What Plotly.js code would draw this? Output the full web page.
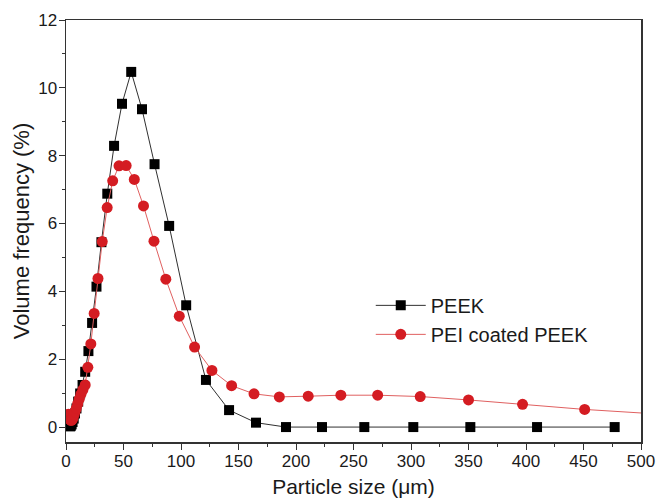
<!DOCTYPE html>
<html>
<head>
<meta charset="utf-8">
<script src="https://cdn.plot.ly/plotly-3.0.1.min.js"></script>
<style>html,body{margin:0;padding:0;background:#fff;}#chart{width:657px;height:498px;}</style>
</head>
<body>
<div id="chart"></div>
<script>
const peekX = [3.6, 4.2, 4.9, 5.7, 6.7, 7.8, 9.1, 10.6, 12.3, 14.4, 16.7, 19.5, 22.7, 26.5, 30.8, 35.9, 41.8, 48.7, 56.7, 66.1, 77.0, 89.7, 104.5, 121.7, 141.8, 165.2, 191.3, 222.6, 259.4, 302.0, 351.6, 409.6, 477.1];
const peekY = [0.02, 0.04, 0.08, 0.15, 0.25, 0.40, 0.55, 0.75, 0.99, 1.24, 1.63, 2.24, 3.07, 4.14, 5.45, 6.88, 8.29, 9.53, 10.47, 9.37, 7.75, 5.93, 3.59, 1.39, 0.50, 0.13, 0.0, 0.0, 0.0, 0.0, 0.0, 0.0, 0.0];
const peiX = [2.2, 2.5, 2.8, 3.2, 3.7, 4.2, 4.7, 5.4, 6.1, 6.9, 7.8, 8.9, 10.1, 11.5, 13.0, 14.7, 16.7, 19.0, 21.6, 24.5, 27.8, 31.5, 35.8, 40.6, 46.1, 52.3, 59.4, 67.4, 76.5, 86.8, 98.5, 111.8, 126.9, 144.0, 163.5, 185.5, 210.6, 239.0, 271.0, 308.0, 350.0, 397.0, 451.0, 512.0];
const peiY = [0.38, 0.35, 0.30, 0.25, 0.22, 0.20, 0.20, 0.22, 0.27, 0.35, 0.45, 0.55, 0.68, 0.82, 0.97, 1.10, 1.24, 1.76, 2.45, 3.35, 4.38, 5.47, 6.47, 7.26, 7.70, 7.71, 7.30, 6.52, 5.48, 4.36, 3.27, 2.36, 1.67, 1.22, 0.98, 0.89, 0.91, 0.94, 0.94, 0.90, 0.80, 0.67, 0.52, 0.39];
const seriesNames = ["PEEK", "PEI coated PEEK"];
const xTickVals = [0, 50, 100, 150, 200, 250, 300, 350, 400, 450, 500];
const yTickVals = [0, 2, 4, 6, 8, 10, 12];

const font = "Liberation Sans, Arial, sans-serif";
const traces = [
  {x: peekX, y: peekY, name: seriesNames[0], type: "scatter", mode: "lines+markers",
   line: {color: "#303030", width: 1}, marker: {symbol: "square", size: 10, color: "#000"}},
  {x: peiX, y: peiY, name: seriesNames[1], type: "scatter", mode: "lines+markers",
   line: {color: "#e06060", width: 1}, marker: {symbol: "circle", size: 11, color: "#d41c22"}}
];
const axisCommon = {
  showgrid: false, zeroline: false, showline: true, linecolor: "#333", linewidth: 1.5,
  mirror: true, ticks: "outside", ticklen: 6, tickwidth: 1, tickcolor: "#333",
  tickfont: {family: font, size: 17, color: "#1a1a1a"}
};
const layout = {
  width: 657, height: 498,
  margin: {l: 66, r: 16, t: 20, b: 56},
  paper_bgcolor: "#fff", plot_bgcolor: "#fff",
  xaxis: Object.assign({}, axisCommon, {
    range: [0, 500], tickvals: xTickVals, ticklabelstandoff: -3,
    minor: {dtick: 25, ticks: "outside", ticklen: 3, tickcolor: "#333"},
    title: {text: "Particle size (μm)", font: {family: font, size: 21, color: "#1a1a1a"}, standoff: 9}
  }),
  yaxis: Object.assign({}, axisCommon, {
    range: [-0.44, 12], tickvals: yTickVals, ticklabelstandoff: -2,
    minor: {tickvals: [1, 3, 5, 7, 9, 11], ticks: "outside", ticklen: 3, tickcolor: "#333"},
    title: {text: "Volume frequency (%)", font: {family: font, size: 22, color: "#1a1a1a"}, standoff: 2}
  }),
  legend: {x: 0.53, y: 0.37, xanchor: "left", yanchor: "top", bgcolor: "rgba(0,0,0,0)",
    itemwidth: 50,
    font: {family: font, size: 20, color: "#1a1a1a"}, tracegroupgap: 0},
  showlegend: true
};
Plotly.newPlot("chart", traces, layout, {displayModeBar: false, staticPlot: true});
</script>
</body>
</html>
